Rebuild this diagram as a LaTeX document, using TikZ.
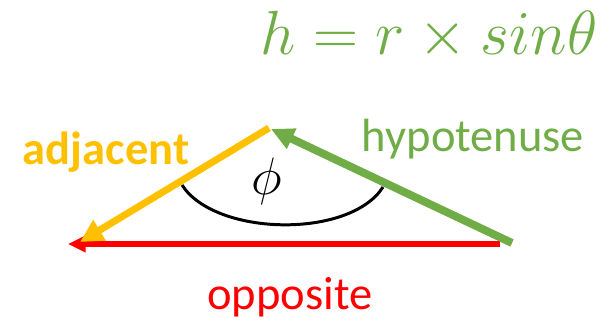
\RequirePackage{fix-cm}
\documentclass[tikz,border=0pt]{standalone}
\usepackage{fontspec}
\setsansfont{Carlito}
\usepackage{tikz}
\usetikzlibrary{arrows.meta,calc}
\definecolor{trigYellow}{HTML}{FFC000}
\definecolor{trigGreen}{HTML}{70AD47}
\definecolor{trigRed}{HTML}{FF0000}

\begin{document}
\begin{tikzpicture}[
  sideLabel/.style={font=\sffamily\fontsize{26.5}{30}\selectfont, anchor=base, inner sep=0pt},
  adjArrow/.style ={draw=trigYellow, line width=4pt, -{Triangle[length=13pt, width=13pt]}},
  hypArrow/.style ={draw=trigGreen, line width=4.5pt, -{Triangle[length=13pt, width=12pt]}},
  oppArrow/.style ={draw=trigRed, line width=3pt, -{Triangle[length=10pt, width=9pt]}},
]
% canvas 610x324 px, 1px = 0.02cm
\useasboundingbox (0,0) rectangle (12.2,6.48);

% triangle corners
\coordinate (apex)    at (5.38,3.92);
\coordinate (adjTip)  at (1.60,1.64);
\coordinate (hypEnd)  at (10.24,1.62);
\coordinate (hypTip)  at (5.42,3.90);
\coordinate (oppEnd)  at (10.00,1.60);
\coordinate (oppTip)  at (1.36,1.60);
\coordinate (arcL)    at (3.64,2.78);
\coordinate (arcR)    at (7.66,2.74);

% angle arc
\draw[black, line width=1.7pt] (arcL) .. controls (4.3,1.75) and (7.0,1.70) .. (arcR);
\node (phi) at (5.34,2.86) {\fontsize{30}{34}\selectfont$\phi$};

% sides
\draw[oppArrow] (oppEnd) -- (oppTip);
\draw[adjArrow] (apex) -- (adjTip);
\draw[hypArrow] (hypEnd) -- (hypTip);

% labels
\node[sideLabel, font=\sffamily\bfseries\fontsize{26.5}{30}\selectfont, text=trigYellow] (adjLabel) at (2.12,3.18) {adjacent};
\node[sideLabel, text=trigGreen] (hypLabel) at (9.46,3.44) {hypotenuse};
\node[sideLabel, text=trigRed] (oppLabel) at (5.80,0.28) {opposite};
\node[anchor=base, inner sep=0pt, text=trigGreen] (formula) at (8.58,5.38)
  {\fontsize{35.5}{40}\selectfont$h = r \times sin\theta$};
\end{tikzpicture}
\end{document}
